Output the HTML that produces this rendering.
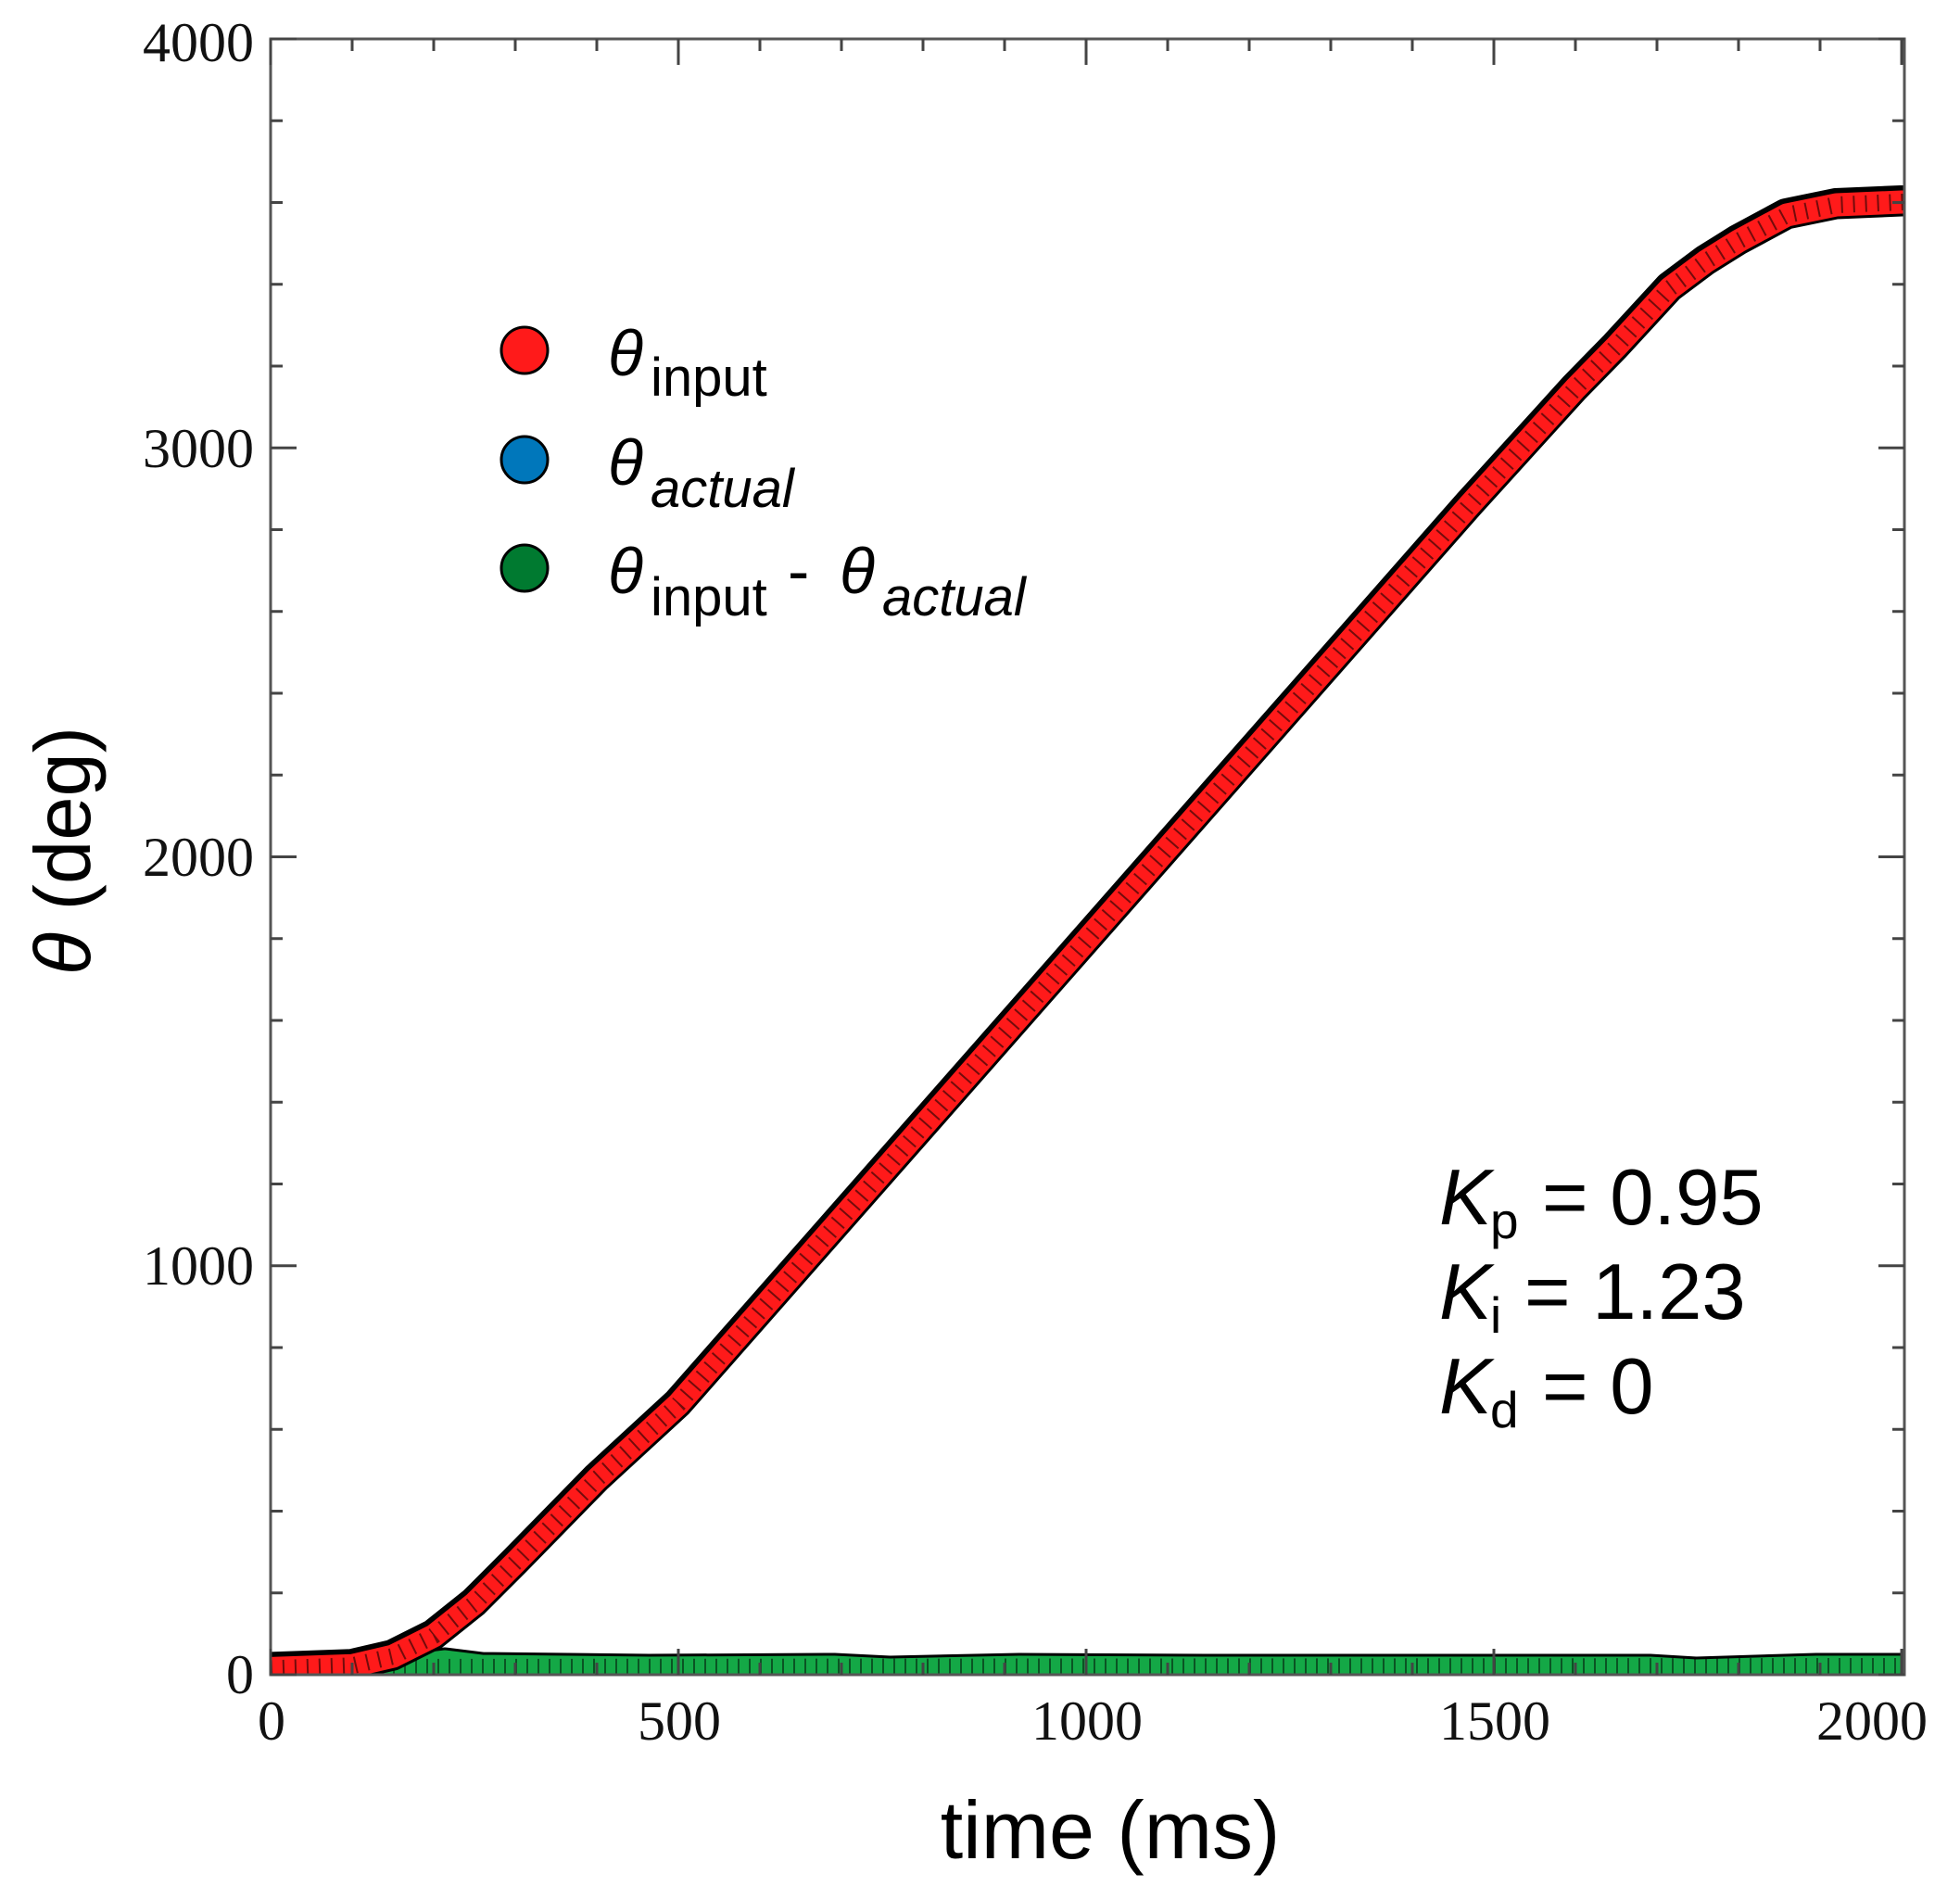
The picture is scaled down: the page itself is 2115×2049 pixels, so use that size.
<!DOCTYPE html>
<html><head><meta charset="utf-8"><style>
html,body{margin:0;padding:0;background:#fff;}
svg{display:block;}
</style></head><body>
<svg xmlns="http://www.w3.org/2000/svg" width="2115" height="2049" viewBox="0 0 2115 2049">
<defs><clipPath id="c"><rect x="292" y="42" width="1763" height="1765"/></clipPath></defs>
<rect width="2115" height="2049" fill="#fff"/>
<g clip-path="url(#c)" fill="none" stroke-linecap="round" stroke-linejoin="round">
<path d="M292 1800 L440 1798 L480 1793 L520 1798 L700 1800 L900 1799 L960 1802 L1100 1799 L1300 1800 L1500 1800 L1780 1800 L1830 1803 L1960 1799 L2060 1799" stroke="#000" stroke-width="31"/>
<path d="M292 1800 L440 1798 L480 1793 L520 1798 L700 1800 L900 1799 L960 1802 L1100 1799 L1300 1800 L1500 1800 L1780 1800 L1830 1803 L1960 1799 L2060 1799" stroke="#14a846" stroke-width="25"/>
<path d="M292 1799 L2060 1798" stroke="#000" stroke-width="18" stroke-dasharray="2 10" stroke-linecap="butt" opacity="0.5"/>
<path d="M292 1800.4 L380 1797.3 L424 1787.1 L468 1765.1 L512 1730 L556 1686 L600 1641 L644 1596 L732 1515 L1585.6 545 L1700 419 L1744 374 L1802 311 L1840.8 282 L1876 260 L1928 232 L1981.6 221 L2052 218 L2065 218" stroke="#000" stroke-width="32" transform="translate(-1,-2)"/>
<path d="M292 1800.4 L380 1797.3 L424 1787.1 L468 1765.1 L512 1730 L556 1686 L600 1641 L644 1596 L732 1515 L1585.6 545 L1700 419 L1744 374 L1802 311 L1840.8 282 L1876 260 L1928 232 L1981.6 221 L2052 218 L2065 218" stroke="#000" stroke-width="31"/>
<path d="M292 1800.4 L380 1797.3 L424 1787.1 L468 1765.1 L512 1730 L556 1686 L600 1641 L644 1596 L732 1515 L1585.6 545 L1700 419 L1744 374 L1802 311 L1840.8 282 L1876 260 L1928 232 L1981.6 221 L2052 218 L2065 218" stroke="#ff1a1a" stroke-width="25"/>
<path d="M292 1800.4 L380 1797.3 L424 1787.1 L468 1765.1 L512 1730 L556 1686 L600 1641 L644 1596 L732 1515 L1585.6 545 L1700 419 L1744 374 L1802 311 L1840.8 282 L1876 260 L1928 232 L1981.6 221 L2052 218 L2065 218" stroke="#000" stroke-width="18" stroke-dasharray="2 11" stroke-linecap="butt" opacity="0.55"/>
</g>
<rect x="292" y="42" width="1763" height="1765" fill="none" stroke="#555" stroke-width="3"/>
<g stroke="#444" stroke-width="3" fill="none">
<path d="M292 1807h28M292 1718.75h13M292 1630.5h13M292 1542.25h13M292 1454h13M292 1365.75h28M292 1277.5h13M292 1189.25h13M292 1101h13M292 1012.75h13M292 924.5h28M292 836.25h13M292 748h13M292 659.75h13M292 571.5h13M292 483.25h28M292 395h13M292 306.75h13M292 218.5h13M292 130.25h13M292 42h28"/>
<path d="M2055 1807h-28M2055 1718.75h-13M2055 1630.5h-13M2055 1542.25h-13M2055 1454h-13M2055 1365.75h-28M2055 1277.5h-13M2055 1189.25h-13M2055 1101h-13M2055 1012.75h-13M2055 924.5h-28M2055 836.25h-13M2055 748h-13M2055 659.75h-13M2055 571.5h-13M2055 483.25h-28M2055 395h-13M2055 306.75h-13M2055 218.5h-13M2055 130.25h-13M2055 42h-28"/>
<path d="M292 1807v-28M380 1807v-13M468 1807v-13M556 1807v-13M644 1807v-13M732 1807v-28M820 1807v-13M908 1807v-13M996 1807v-13M1084 1807v-13M1172 1807v-28M1260 1807v-13M1348 1807v-13M1436 1807v-13M1524 1807v-13M1612 1807v-28M1700 1807v-13M1788 1807v-13M1876 1807v-13M1964 1807v-13M2052 1807v-28"/>
<path d="M292 42v28M380 42v13M468 42v13M556 42v13M644 42v13M732 42v28M820 42v13M908 42v13M996 42v13M1084 42v13M1172 42v28M1260 42v13M1348 42v13M1436 42v13M1524 42v13M1612 42v28M1700 42v13M1788 42v13M1876 42v13M1964 42v13M2052 42v28"/>
</g>
<g font-family="'Liberation Serif',serif" font-size="60" fill="#111">
<text x="274" y="66" text-anchor="end">4000</text>
<text x="274" y="504" text-anchor="end">3000</text>
<text x="274" y="945" text-anchor="end">2000</text>
<text x="274" y="1386" text-anchor="end">1000</text>
<text x="274" y="1827" text-anchor="end">0</text>
<text x="293" y="1877" text-anchor="middle">0</text>
<text x="733" y="1877" text-anchor="middle">500</text>
<text x="1173" y="1877" text-anchor="middle">1000</text>
<text x="1613" y="1877" text-anchor="middle">1500</text>
<text x="2080" y="1877" text-anchor="end">2000</text>
</g>
<g font-family="'Liberation Sans',sans-serif" fill="#000">
<text x="1198" y="2005" font-size="88" text-anchor="middle">time (ms)</text>
<text transform="translate(97,918) rotate(-90)" font-size="85" text-anchor="middle"><tspan font-style="italic">θ</tspan> (deg)</text>
<circle cx="566" cy="378" r="25" fill="#ff1a1a" stroke="#000" stroke-width="3"/>
<circle cx="566" cy="496" r="25" fill="#0077bb" stroke="#000" stroke-width="3"/>
<circle cx="566" cy="613" r="25" fill="#007a30" stroke="#000" stroke-width="3"/>
<text x="656" y="405" font-size="70" font-style="italic">θ</text>
<text x="702" y="427" font-size="58">input</text>
<text x="656" y="523" font-size="70" font-style="italic">θ</text>
<text x="702" y="547" font-size="58" font-style="italic">actual</text>
<text x="656" y="640" font-size="70" font-style="italic">θ</text>
<text x="702" y="664" font-size="58">input</text>
<text x="850" y="640" font-size="70">-</text>
<text x="906" y="640" font-size="70" font-style="italic">θ</text>
<text x="952" y="664" font-size="58" font-style="italic">actual</text>
<text x="1553" y="1321" font-size="85" font-style="italic">K</text>
<text x="1608" y="1336" font-size="55">p</text>
<text x="1664" y="1321" font-size="85">= 0.95</text>
<text x="1553" y="1423" font-size="85" font-style="italic">K</text>
<text x="1608" y="1438" font-size="55">i</text>
<text x="1645" y="1423" font-size="85">= 1.23</text>
<text x="1553" y="1525" font-size="85" font-style="italic">K</text>
<text x="1608" y="1540" font-size="55">d</text>
<text x="1664" y="1525" font-size="85">= 0</text>
</g>
</svg>
</body></html>
